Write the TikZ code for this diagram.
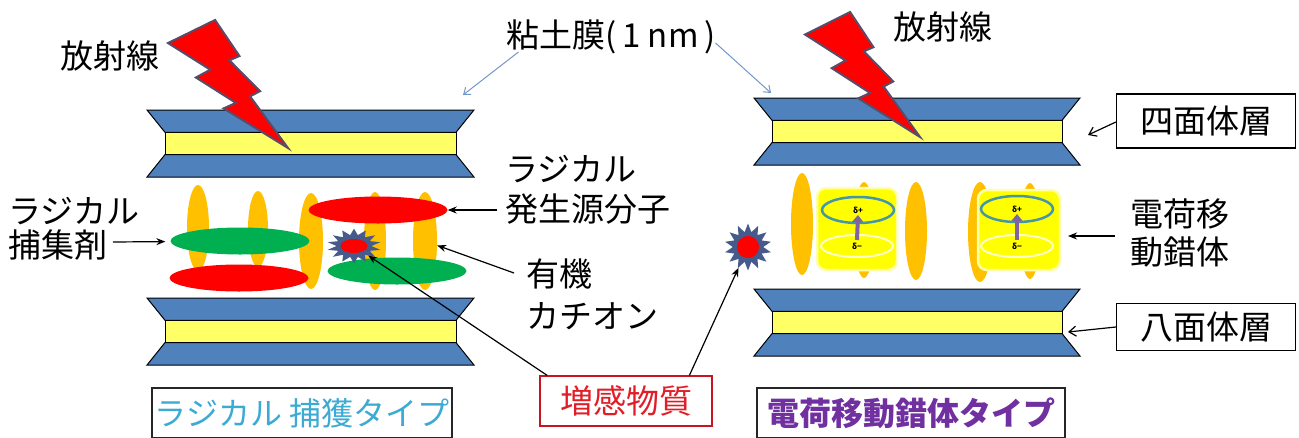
\documentclass[tikz,border=0pt]{standalone}
\usepackage{fontspec}
\setmainfont{Noto Sans CJK JP}
\usetikzlibrary{shapes.geometric,arrows.meta}

\definecolor{layblue}{RGB}{79,129,189}
\definecolor{layyellow}{RGB}{255,255,102}
\definecolor{orgold}{RGB}{255,192,0}
\definecolor{molred}{RGB}{255,0,0}
\definecolor{molgreen}{RGB}{0,176,80}
\definecolor{boltedge}{RGB}{90,75,105}
\definecolor{starblue}{RGB}{70,90,140}
\definecolor{clayarrow}{RGB}{115,150,200}
\definecolor{ctyellow}{RGB}{255,255,0}
\definecolor{ctglow}{RGB}{255,255,170}
\definecolor{ctteal}{RGB}{70,150,170}
\definecolor{ctpale}{RGB}{255,255,205}
\definecolor{ctpurple}{RGB}{128,100,162}
\definecolor{typecyan}{RGB}{60,170,210}
\definecolor{typepurple}{RGB}{112,48,160}
\definecolor{sensred}{RGB}{225,30,40}
\definecolor{sensframe}{RGB}{200,20,30}

% clay sheet: tetrahedral / octahedral / tetrahedral
\newcommand\ClayStack[3]{%
  \filldraw[fill=layblue, draw=black, line width=1pt, line join=miter]
    (#1,#2) -- (#3,#2) -- (#3-18,#2+22.3) -- (#1+18,#2+22.3) -- cycle;
  \filldraw[fill=layyellow, draw=black, line width=1pt]
    (#1+18,#2+22.3) rectangle (#3-18,#2+44.6);
  \filldraw[fill=layblue, draw=black, line width=1pt, line join=miter]
    (#1+18,#2+44.6) -- (#3-18,#2+44.6) -- (#3,#2+67) -- (#1,#2+67) -- cycle;}

% lightning bolt in a box at (#1,#2) of size #3 x #4
\newcommand\Bolt[4]{%
  \begin{scope}[shift={(#1,#2)}, x=#3pt, y=-#4pt]
    \filldraw[fill=molred, draw=boltedge, line width=2pt, line join=miter]
      (0.3922,0) -- (0.5954,0.2815) -- (0.5116,0.3147) -- (0.7675,0.5559)
      -- (0.6837,0.5962) -- (1,1) -- (0.4635,0.6905) -- (0.5658,0.6475)
      -- (0.2325,0.4493) -- (0.3519,0.3881) -- (0,0.1801) -- cycle;
  \end{scope}}

\begin{document}
\begin{tikzpicture}[x=1pt, y=-1pt,
  lbl/.style={inner sep=0pt, font=\fontsize{33}{38}\selectfont},
  tagbox/.style={draw=black, line width=1.2pt, minimum width=179pt, inner sep=0pt,
    font=\fontsize{33}{38}\selectfont},
  orgell/.style={ellipse, fill=orgold, inner sep=0pt, minimum width=22pt},
  molell/.style={ellipse, inner sep=0pt, minimum width=139pt, minimum height=27pt},
  ctbox/.style={rectangle, rounded corners=9pt, fill=ctyellow, draw=ctglow,
    line width=2.5pt, minimum width=80pt, minimum height=82pt, inner sep=0pt},
  dplus/.style={ellipse, draw=ctteal, line width=2.5pt, minimum width=72pt,
    minimum height=26pt, inner sep=0pt, font=\bfseries\fontsize{8}{8}\selectfont},
  dminus/.style={ellipse, draw=ctpale, line width=2pt, minimum width=72pt,
    minimum height=22pt, inner sep=0pt, font=\bfseries\fontsize{8}{8}\selectfont},
  sensstar/.style={star, star points=14, star point ratio=1.55, fill=starblue,
    inner sep=0pt},
  ptr/.style={draw=black, line width=1.2pt, -{Stealth[length=9pt,width=7pt]}},
  barb/.style={draw=black, line width=1.2pt, -{Straight Barb[length=7pt,width=10pt]}},
  clayptr/.style={draw=clayarrow, line width=1pt, -{Straight Barb[length=6pt,width=9pt]}}]

\useasboundingbox (0,0) rectangle (1299,437);
\clip (0,0) rectangle (1299,437);

% ---------- clay sheets ----------
\ClayStack{147}{110}{474}
\ClayStack{147}{298}{474}
\ClayStack{754}{98}{1080}
\ClayStack{754}{289}{1080}

% ---------- radical-trap interlayer ----------
\node[orgell, minimum height=86pt] (o1) at (198,228) {};
\node[orgell, minimum width=20pt, minimum height=76pt] (o2) at (258,229) {};
\node[orgell, minimum width=24pt, minimum height=96pt] (o3) at (311,241) {};
\node[orgell, minimum height=98pt] (o4) at (375,241) {};
\node[orgell, minimum width=24pt, minimum height=98pt] (o5) at (425,241) {};

\node[molell, fill=molred]   (r2) at (239,278) {};
\node[molell, fill=molgreen] (g1) at (240,241) {};
\node[molell, fill=molred]   (r1) at (378,210) {};
\node[molell, fill=molgreen] (g2) at (397,271) {};

\begin{scope}[shift={(354,246)}, yscale=0.64]
  \node[sensstar, minimum size=54pt, transform shape] (stL) at (0,0) {};
\end{scope}
\node[ellipse, fill=molred, inner sep=0pt, minimum width=27pt, minimum height=14pt]
  (stLc) at (stL.center) {};

% ---------- charge-transfer interlayer ----------
\node[orgell, minimum height=102pt] (q1) at (802,224) {};
\node[orgell, minimum width=20pt, minimum height=96pt] (q2) at (864,230) {};
\node[ctbox] (ct1) at (857,229) {};
\node[dplus]  (dp1) at (858,210) {δ+};
\node[dminus] (dm1) at (857,246) {δ−};
\draw[ctpurple, line width=4pt, -{Triangle[length=7pt,width=11pt]}]
  ([yshift=6pt]dm1.center) -- ([yshift=-5pt]dp1.center);

\node[orgell, minimum height=98pt] (q3) at (916,231) {};
\node[orgell, minimum width=24pt, minimum height=100pt] (q4) at (980,232) {};
\node[orgell, minimum width=20pt, minimum height=96pt] (q5) at (1030,231) {};
\node[ctbox, minimum width=82pt, minimum height=80pt] (ct2) at (1019,230) {};
\node[dplus]  (dp2) at (1017,209) {δ+};
\node[dminus] (dm2) at (1017,246) {δ−};
\draw[ctpurple, line width=4pt, -{Triangle[length=7pt,width=11pt]}]
  ([yshift=6pt]dm2.center) -- ([yshift=-5pt]dp2.center);

\node[sensstar, minimum size=47pt] (stR) at (748,247) {};
\node[circle, fill=molred, inner sep=0pt, minimum size=22pt] (stRc) at (stR.center) {};

% ---------- radiation ----------
\Bolt{168}{20}{120}{128}
\Bolt{805}{12}{115}{125}

% ---------- labels ----------
\node[lbl] (rayL) at (110,56) {放射線};
\node[lbl] (rayR) at (943,27) {放射線};
\node[lbl] (clay) at (611,37) {粘土膜(\,1 nm\,)};

\node[lbl, anchor=west, align=left, font=\fontsize{33}{34}\selectfont]
  (scav) at (8,229) {ラジカル\\捕集剤};
\node[lbl, anchor=west, align=left, font=\fontsize{33}{40}\selectfont]
  (gen) at (505,190) {ラジカル\\発生源分子};
\node[lbl, anchor=west, align=left, font=\fontsize{33}{42}\selectfont]
  (cat) at (526,294) {有機\\カチオン};
\node[lbl, anchor=west, align=left, font=\fontsize{33}{38}\selectfont]
  (ctc) at (1130,233) {電荷移\\動錯体};

\node[tagbox, minimum height=54pt] (tet) at (1206,121) {四面体層};
\node[tagbox, minimum height=47pt] (oct) at (1206,327) {八面体層};

\node[draw=black!85, line width=1.2pt, minimum width=300pt, minimum height=50pt,
  inner sep=0pt, text=typecyan, font=\fontsize{32}{36}\selectfont]
  (typeA) at (302,413) {ラジカル 捕獲タイプ};
\node[draw=sensframe, line width=1.2pt, minimum width=172pt, minimum height=50pt,
  inner sep=0pt, text=sensred, font=\fontsize{33}{38}\selectfont]
  (sens) at (626,401) {増感物質};
\node[draw=black!85, line width=1.2pt, minimum width=308pt, minimum height=50pt,
  inner sep=0pt, text=typepurple, font=\bfseries\fontsize{32}{36}\selectfont]
  (typeB) at (911,413) {電荷移動錯体タイプ};

% ---------- connectors ----------
\coordinate (scavtail) at (113,242);
\coordinate (gentail)  at (497,210);
\coordinate (cattail)  at (514,273);
\coordinate (clayL)    at (463,95);
\coordinate (clayR)    at (771,93);
\coordinate (tethead)  at (1088,135);
\coordinate (octhead)  at (1068,332);
\coordinate (ctchead)  at (1068,236);

\draw[clayptr] ([shift={(12pt,-15pt)}]clay.west) -- (clayL);
\draw[clayptr] ([yshift=-6pt]clay.east) -- (clayR);

\draw[ptr, shorten >=5pt] (scavtail) -- (g1);
\draw[ptr] (gentail) -- (r1);
\draw[ptr] (cattail) -- (o5);
\draw[ptr] ([shift={(-15pt,-3pt)}]ctc.west) -- (ctchead);
\draw[barb] ([yshift=-1pt]tet.west) -- (tethead);
\draw[barb] (oct.west) -- (octhead);
\draw[ptr] (sens.162) -- (stL);
\draw[ptr] (sens.22) -- (stR);

\end{tikzpicture}
\end{document}
